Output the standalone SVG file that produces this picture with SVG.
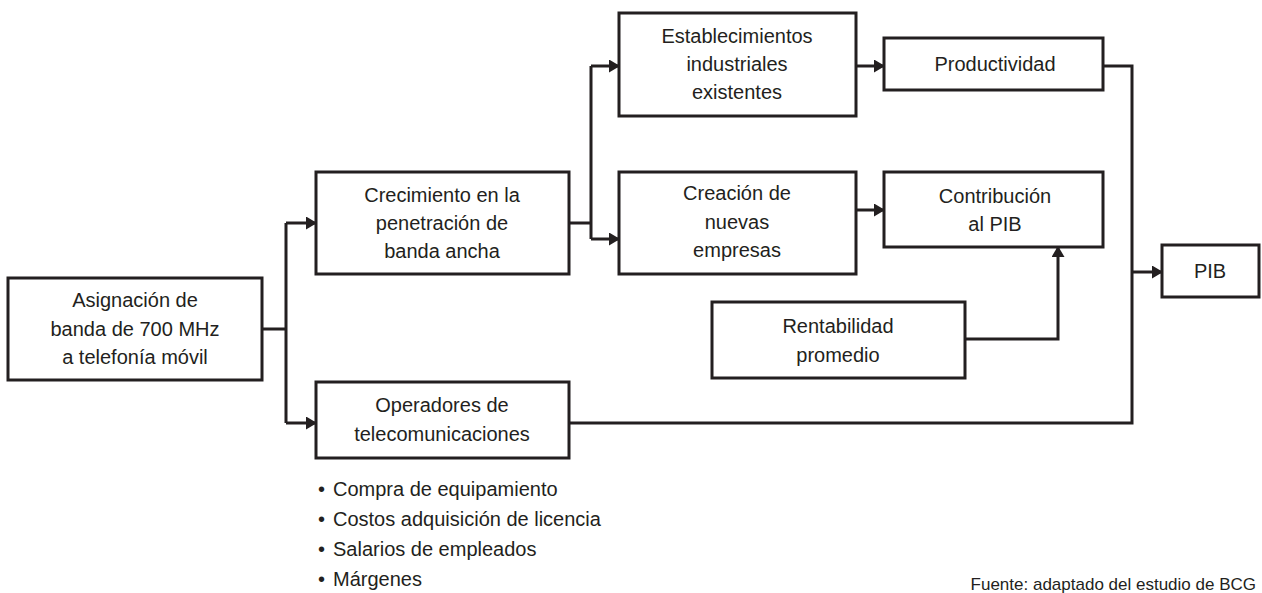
<svg xmlns="http://www.w3.org/2000/svg" width="1262" height="593" viewBox="0 0 1262 593">
<style>
.box{fill:#fff;stroke:#231f20;stroke-width:3}
.lbl{font-family:"Liberation Sans",Arial,sans-serif;font-size:20px;fill:#231f20;text-anchor:middle}
.bul{font-family:"Liberation Sans",Arial,sans-serif;font-size:20px;fill:#231f20}
.src{font-family:"Liberation Sans",Arial,sans-serif;font-size:17px;fill:#231f20;text-anchor:end}
.con{fill:none;stroke:#231f20;stroke-width:3}
.arr{fill:none;stroke:#231f20;stroke-width:3;marker-end:url(#ah)}
</style>
<defs>
<marker id="ah" markerUnits="userSpaceOnUse" markerWidth="11" markerHeight="13" refX="10" refY="6.5" orient="auto">
<path d="M0,0 L11,6.5 L0,13 z" fill="#231f20"/>
</marker>
</defs>
<rect width="1262" height="593" fill="#fff"/>
<g id="connectors">
<path class="con" d="M262,329 H286 M286,223 V423"/>
<path class="arr" d="M286,223 H316"/>
<path class="arr" d="M286,423 H316"/>
<path class="con" d="M569,223 H591 M591,66 V239"/>
<path class="arr" d="M591,66 H619"/>
<path class="arr" d="M591,239 H619"/>
<path class="arr" d="M856,66 H884"/>
<path class="arr" d="M856,210 H884"/>
<path class="con" d="M1103,66 H1132 V423 H569"/>
<path class="arr" d="M1132,272 H1162"/>
<path class="arr" d="M965,339 H1058 V247"/>
</g>
<g id="asignacion">
<rect class="box" x="8" y="278" width="254" height="102"/>
<text class="lbl" x="135" y="307">Asignación de</text>
<text class="lbl" x="135" y="336">banda de 700 MHz</text>
<text class="lbl" x="135" y="364">a telefonía móvil</text>
</g>
<g id="crecimiento">
<rect class="box" x="316" y="172" width="253" height="102"/>
<text class="lbl" x="442" y="202">Crecimiento en la</text>
<text class="lbl" x="442" y="230">penetración de</text>
<text class="lbl" x="442" y="258">banda ancha</text>
</g>
<g id="establecimientos">
<rect class="box" x="619" y="13" width="237" height="103"/>
<text class="lbl" x="737" y="43">Establecimientos</text>
<text class="lbl" x="737" y="71">industriales</text>
<text class="lbl" x="737" y="99">existentes</text>
</g>
<g id="creacion">
<rect class="box" x="619" y="172" width="237" height="102"/>
<text class="lbl" x="737" y="200">Creación de</text>
<text class="lbl" x="737" y="229">nuevas</text>
<text class="lbl" x="737" y="257">empresas</text>
</g>
<g id="productividad">
<rect class="box" x="884" y="38" width="219" height="52"/>
<text class="lbl" x="995" y="71">Productividad</text>
</g>
<g id="contribucion">
<rect class="box" x="884" y="172" width="219" height="75"/>
<text class="lbl" x="995" y="203">Contribución</text>
<text class="lbl" x="995" y="231">al PIB</text>
</g>
<g id="rentabilidad">
<rect class="box" x="712" y="302" width="253" height="76"/>
<text class="lbl" x="838" y="333">Rentabilidad</text>
<text class="lbl" x="838" y="362">promedio</text>
</g>
<g id="operadores">
<rect class="box" x="316" y="382" width="253" height="76"/>
<text class="lbl" x="442" y="412">Operadores de</text>
<text class="lbl" x="442" y="441">telecomunicaciones</text>
</g>
<g id="pib">
<rect class="box" x="1162" y="245" width="97" height="52"/>
<text class="lbl" x="1210" y="278">PIB</text>
</g>
<g id="bullets">
<text class="bul" x="318" y="496">•<tspan x="333">Compra de equipamiento</tspan></text>
<text class="bul" x="318" y="526">•<tspan x="333">Costos adquisición de licencia</tspan></text>
<text class="bul" x="318" y="556">•<tspan x="333">Salarios de empleados</tspan></text>
<text class="bul" x="318" y="586">•<tspan x="333">Márgenes</tspan></text>
</g>
<g id="source">
<text class="src" x="1256" y="590">Fuente: adaptado del estudio de BCG</text>
</g>
</svg>
